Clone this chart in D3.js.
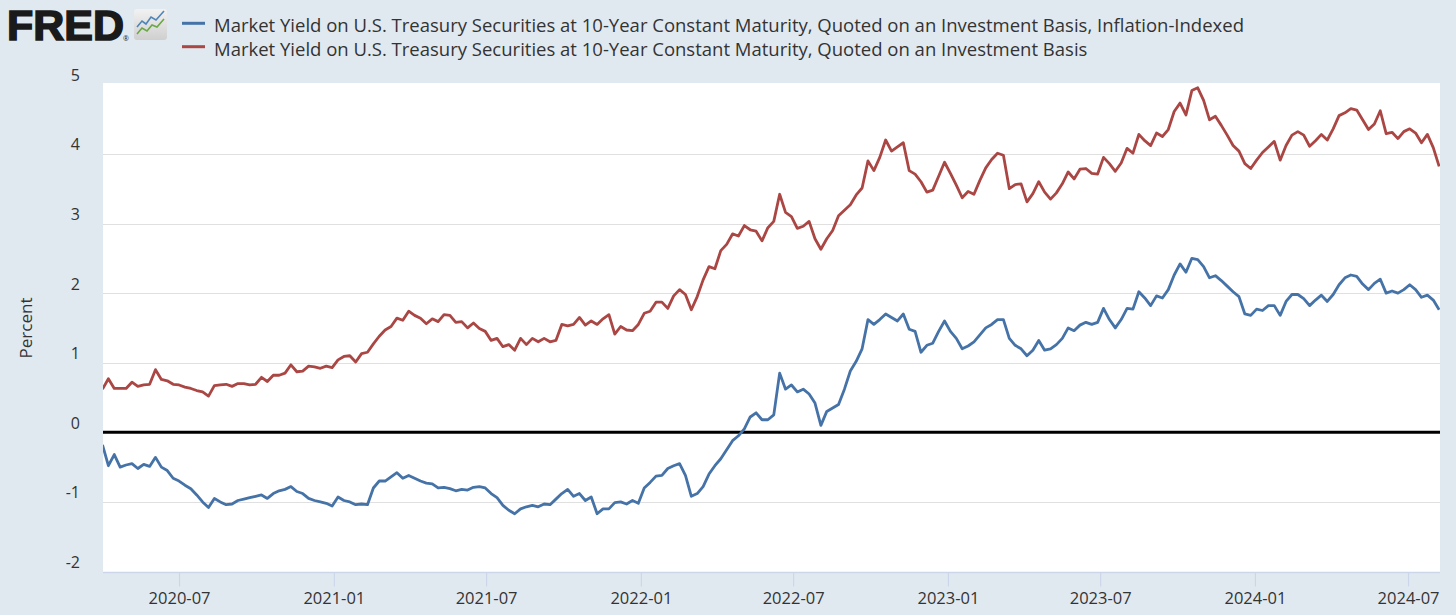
<!DOCTYPE html>
<html>
<head>
<meta charset="utf-8">
<script src="https://cdn.jsdelivr.net/npm/d3@7"></script>
<style>
  body { margin: 0; background: #e1e9f0; }
  text { font-family: "Open Sans", "Noto Sans", sans-serif; fill: #333; }
</style>
</head>
<body>
<div id="chart"></div>
<script>
// weekly (Wednesday) readings, 2020-04-01 .. 2024-08-07
var startDate = new Date(2020, 3, 1),
    endDate = new Date(2024, 7, 8);

var seriesNames = [
  "Market Yield on U.S. Treasury Securities at 10-Year Constant Maturity, Quoted on an Investment Basis, Inflation-Indexed",
  "Market Yield on U.S. Treasury Securities at 10-Year Constant Maturity, Quoted on an Investment Basis"
];

// DFII10, one row per month
var tipsYield = [
  -0.18, -0.48, -0.32, -0.50, -0.47,          // 2020 Apr
  -0.45, -0.52, -0.46, -0.49,
  -0.36, -0.50, -0.55, -0.66,
  -0.70, -0.76, -0.81, -0.90, -1.00,
  -1.08, -0.95, -1.00, -1.04,
  -1.03, -0.98, -0.96, -0.94, -0.92,
  -0.90, -0.95, -0.88, -0.84,
  -0.82, -0.78, -0.85, -0.88,
  -0.95, -0.98, -1.00, -1.02, -1.06,
  -0.93, -0.98, -1.00, -1.04,                 // 2021 Jan
  -1.03, -1.04, -0.80, -0.70,
  -0.70, -0.64, -0.58, -0.66, -0.62,
  -0.66, -0.70, -0.73, -0.74,
  -0.80, -0.79, -0.81, -0.84,
  -0.82, -0.83, -0.79, -0.78, -0.80,
  -0.88, -0.94, -1.05, -1.12,
  -1.17, -1.10, -1.07, -1.05,
  -1.07, -1.03, -1.04, -0.96, -0.88,
  -0.82, -0.92, -0.88, -0.98,
  -0.93, -1.17, -1.10, -1.10,
  -1.01, -1.00, -1.03, -0.98, -1.02,
  -0.80, -0.72, -0.63, -0.62,                 // 2022 Jan
  -0.52, -0.48, -0.45, -0.62,
  -0.92, -0.88, -0.78, -0.60, -0.48,
  -0.38, -0.25, -0.12, -0.05,
  0.05, 0.22, 0.28, 0.18,
  0.18, 0.25, 0.85, 0.62, 0.68,
  0.58, 0.62, 0.55, 0.42,
  0.10, 0.30, 0.35, 0.40, 0.62,
  0.88, 1.02, 1.20, 1.62,
  1.55, 1.62, 1.70, 1.65,
  1.60, 1.70, 1.48, 1.45, 1.15,
  1.25, 1.28, 1.45, 1.60,
  1.45, 1.35, 1.20, 1.24,                     // 2023 Jan
  1.30, 1.40, 1.50, 1.55,
  1.62, 1.62, 1.35, 1.25, 1.20,
  1.10, 1.18, 1.32, 1.18,
  1.20, 1.26, 1.35, 1.50, 1.46,
  1.54, 1.58, 1.55, 1.58,
  1.78, 1.62, 1.50, 1.62,
  1.78, 1.77, 2.02, 1.93, 1.82,
  1.96, 1.93, 2.05, 2.26,
  2.42, 2.30, 2.50, 2.48,
  2.38, 2.22, 2.25, 2.18, 2.10,
  2.02, 1.95, 1.70, 1.68,
  1.77, 1.75, 1.82, 1.82, 1.68,               // 2024 Jan
  1.88, 1.98, 1.98, 1.92,
  1.82, 1.90, 1.97, 1.88,
  1.98, 2.12, 2.22, 2.26,
  2.24, 2.13, 2.05, 2.14, 2.20,
  2.00, 2.03, 2.00, 2.05,
  2.12, 2.05, 1.94, 1.97, 1.90,
  1.76
];

// DGS10, one row per month
var nominalYield = [
  0.62, 0.77, 0.63, 0.63, 0.63,               // 2020 Apr
  0.72, 0.66, 0.68, 0.69,
  0.90, 0.76, 0.74, 0.69,
  0.68, 0.65, 0.63, 0.60, 0.58,
  0.52, 0.67, 0.68, 0.69,
  0.66, 0.70, 0.70, 0.68, 0.69,
  0.79, 0.73, 0.82, 0.82,
  0.85, 0.97, 0.87, 0.88,
  0.95, 0.94, 0.92, 0.95, 0.93,
  1.04, 1.09, 1.10, 1.01,                     // 2021 Jan
  1.13, 1.15, 1.27, 1.38,
  1.47, 1.52, 1.64, 1.61, 1.74,
  1.68, 1.64, 1.56, 1.63,
  1.59, 1.69, 1.68, 1.58,
  1.59, 1.50, 1.57, 1.49, 1.45,
  1.32, 1.35, 1.23, 1.26,
  1.18, 1.35, 1.26, 1.35,
  1.30, 1.35, 1.30, 1.32, 1.55,
  1.53, 1.55, 1.65, 1.54,
  1.60, 1.55, 1.63, 1.69,
  1.41, 1.52, 1.47, 1.46, 1.55,
  1.71, 1.74, 1.87, 1.87,                     // 2022 Jan
  1.78, 1.96, 2.05, 1.98,
  1.76, 1.95, 2.19, 2.38, 2.35,
  2.61, 2.70, 2.85, 2.82,
  2.97, 2.91, 2.89, 2.75,
  2.94, 3.03, 3.42, 3.16, 3.10,
  2.93, 2.96, 3.03, 2.78,
  2.63, 2.78, 2.90, 3.11, 3.19,
  3.27, 3.41, 3.51, 3.90,
  3.76, 3.95, 4.20, 4.04,
  4.10, 4.16, 3.76, 3.71, 3.60,
  3.45, 3.48, 3.68, 3.88,
  3.72, 3.55, 3.37, 3.46,                     // 2023 Jan
  3.42, 3.62, 3.80, 3.92,
  4.01, 3.98, 3.50, 3.56, 3.57,
  3.31, 3.43, 3.60, 3.45,
  3.35, 3.44, 3.57, 3.74, 3.64,
  3.78, 3.79, 3.72, 3.71,
  3.95, 3.86, 3.75, 3.87,
  4.08, 4.01, 4.28, 4.19, 4.12,
  4.30, 4.25, 4.35, 4.61,
  4.73, 4.56, 4.91, 4.95,
  4.77, 4.49, 4.54, 4.41, 4.27,
  4.12, 4.04, 3.86, 3.79,
  3.91, 4.02, 4.10, 4.18, 3.91,               // 2024 Jan
  4.12, 4.27, 4.32, 4.27,
  4.11, 4.19, 4.28, 4.20,
  4.36, 4.55, 4.59, 4.65,
  4.63, 4.49, 4.35, 4.43, 4.62,
  4.29, 4.31, 4.22, 4.32,
  4.36, 4.30, 4.16, 4.28, 4.09,
  3.82
];

var yTicks = [-2, -1, 0, 1, 2, 3, 4, 5];
var colors = ["#4572a7", "#aa4643"];

//Basic setting
var w = 1456, h = 615;
var margin = {top: 83, right: 16, bottom: 43, left: 103};

var svg = d3.select('#chart').append('svg')
    .attr('width', w)
    .attr('height', h);

svg.append('rect')
    .attr('width', w).attr('height', h)
    .attr('fill', '#e1e9f0');

var dates = d3.timeWednesday.range(startDate, endDate);
var n = Math.min(dates.length, tipsYield.length, nominalYield.length);
function toRows(vals) {
    return d3.range(n).map(function(i) { return {date: dates[i], value: vals[i]}; });
}
var series = [toRows(tipsYield), toRows(nominalYield)];

//Scales
var x = d3.scaleTime()
    .domain([startDate, endDate])
    .range([102.5, w - margin.right]);
var y = d3.scaleLinear()
    .domain([-2, 5])
    .range([571.5, 84.3]);

//Plot background
svg.append('rect')
    .attr('x', margin.left)
    .attr('y', margin.top)
    .attr('width', w - margin.right - margin.left)
    .attr('height', 572.5 - margin.top)
    .attr('fill', '#fff');

svg.append('clipPath').attr('id', 'plotclip')
  .append('rect')
    .attr('x', margin.left)
    .attr('y', margin.top)
    .attr('width', w - margin.right - margin.left)
    .attr('height', 572.5 - margin.top);

//Grid lines
svg.append('g').selectAll('line')
    .data(yTicks.filter(function(d) { return d !== 0 && d !== 5; }))
  .enter().append('line')
    .attr('x1', margin.left)
    .attr('x2', w - margin.right)
    .attr('y1', function(d) { return Math.round(y(d)) + 0.5; })
    .attr('y2', function(d) { return Math.round(y(d)) + 0.5; })
    .attr('stroke', '#e0e0e0')
    .attr('stroke-width', 1.2);

//Y labels
svg.append('g').selectAll('text')
    .data(yTicks)
  .enter().append('text')
    .attr('x', 80)
    .attr('y', function(d) { return y(d) - 3.5; })
    .attr('text-anchor', 'end')
    .style('font-size', '16px')
    .text(function(d) { return d; });

svg.append('text')
    .attr('transform', 'translate(32,328) rotate(-90)')
    .attr('text-anchor', 'middle')
    .style('font-size', '17px')
    .text('Percent');

//X axis
var xAxis = d3.axisBottom(x)
    .ticks(d3.timeMonth.every(6))
    .tickFormat(d3.timeFormat('%Y-%m'))
    .tickSize(14)
    .tickSizeOuter(0)
    .tickPadding(6);
var gx = svg.append('g')
    .attr('transform', 'translate(0,572.5)')
    .call(xAxis);
gx.select('.domain')
    .attr('d', 'M' + margin.left + ',0H' + (w - margin.right))
    .attr('stroke', '#ccd6eb')
    .attr('stroke-width', 1.5);
gx.selectAll('.tick line').attr('stroke', '#ccd6eb').attr('stroke-width', 1.2);
gx.selectAll('.tick text')
    .style('font-size', '16.5px')
    .style('font-family', '"Open Sans", sans-serif')
    .attr('fill', '#333');

//Zero line
svg.append('line')
    .attr('x1', margin.left)
    .attr('x2', w - margin.right)
    .attr('y1', y(0))
    .attr('y2', y(0))
    .attr('stroke', '#000')
    .attr('stroke-width', 3);

//Series lines
var line = d3.line()
    .x(function(d) { return x(d.date); })
    .y(function(d) { return y(d.value); });

svg.append('g')
    .attr('clip-path', 'url(#plotclip)')
  .selectAll('path')
    .data(series)
  .enter().append('path')
    .attr('d', line)
    .attr('fill', 'none')
    .attr('stroke', function(d, i) { return colors[i]; })
    .attr('stroke-width', 2.8)
    .attr('stroke-linejoin', 'round');

//Legend
var legend = svg.append('g').selectAll('g')
    .data(seriesNames)
  .enter().append('g')
    .attr('transform', function(d, i) { return 'translate(0,' + (23.3 + i * 23.4) + ')'; });
legend.append('line')
    .attr('x1', 182).attr('x2', 205)
    .attr('stroke', function(d, i) { return colors[i]; })
    .attr('stroke-width', 3);
legend.append('text')
    .attr('x', 214)
    .attr('y', 9)
    .style('font-size', '18.5px')
    .text(function(d) { return d; });

//FRED logo
var logo = svg.append('g');
logo.append('text')
    .attr('x', 7).attr('y', 40)
    .attr('textLength', 117)
    .attr('lengthAdjust', 'spacingAndGlyphs')
    .style('font-family', '"Liberation Sans", Arial, sans-serif')
    .style('font-weight', 'bold')
    .style('font-size', '43px')
    .style('fill', '#1a1a1a')
    .attr('stroke', '#1a1a1a')
    .attr('stroke-width', 1.6)
    .text('FRED');
logo.append('text')
    .attr('x', 123).attr('y', 41)
    .style('font-size', '7px')
    .style('fill', '#1a1a1a')
    .text('®');
var grad = svg.append('defs').append('linearGradient')
    .attr('id', 'iconbg').attr('x1', 0).attr('y1', 0).attr('x2', 0).attr('y2', 1);
grad.append('stop').attr('offset', '0%').attr('stop-color', '#f2f2f2');
grad.append('stop').attr('offset', '100%').attr('stop-color', '#cfcfcf');
logo.append('rect')
    .attr('x', 134).attr('y', 9).attr('width', 33).attr('height', 31).attr('rx', 3)
    .attr('fill', 'url(#iconbg)');
logo.append('polyline')
    .attr('points', '137,27 142,21 146,24 151,17 156,20 164,11')
    .attr('fill', 'none').attr('stroke', '#4f86b8').attr('stroke-width', 1.6);
logo.append('polyline')
    .attr('points', '137,34 142,28 147,31 152,25 157,27 164,19')
    .attr('fill', 'none').attr('stroke', '#6aa843').attr('stroke-width', 1.6);
</script>
</body>
</html>
